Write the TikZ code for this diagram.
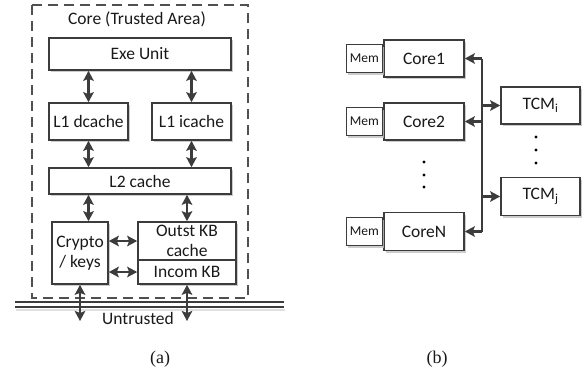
\documentclass[tikz,border=0pt]{standalone}
\usepackage{fontspec}
\setmainfont{Carlito}
\newfontfamily\capfont{Liberation Serif}
\usetikzlibrary{arrows.meta,shadows}
\definecolor{lineGray}{HTML}{3C3C3C}
\begin{document}
\begin{tikzpicture}[x=1pt,y=-1pt,
  line width=1.6pt,
  every node/.style={text=black!90},
  blk/.style={draw=lineGray, line width=1.6pt, fill=white, inner sep=0pt, align=center,
    font=\fontsize{17.5}{19.5}\selectfont,
    drop shadow={shadow xshift=2pt,shadow yshift=-2pt,fill=black!25,opacity=0.8}},
  memblk/.style={blk, font=\fontsize{13.5}{15.5}\selectfont},
  lbl/.style={inner sep=0pt, font=\fontsize{17.5}{19.5}\selectfont},
  captext/.style={inner sep=0pt, font=\capfont\fontsize{18}{20}\selectfont},
  link/.style={draw=lineGray, line width=2.3pt,
    arrows={Stealth[length=10pt,width=10.5pt,inset=2pt]-Stealth[length=10pt,width=10.5pt,inset=2pt]}},
  feed/.style={draw=lineGray, line width=2.3pt,
    -{Stealth[length=10pt,width=10.5pt,inset=2pt]}},
  dotmark/.style={fill=black}
]
\useasboundingbox (0,0) rectangle (585,373);

% ---------- (a) single core ----------
\draw[lineGray!90, line width=1.7pt, dash pattern=on 10pt off 6pt] (32,5) rectangle (248,298);
\node[lbl] (title) at (137,19) {Core (Trusted Area)};

\node[blk, minimum width=182pt, minimum height=32pt] (exe) at (140,54) {Exe Unit};
\node[blk, minimum width=79pt, minimum height=37pt] (dc) at (88.5,121.5) {L1 dcache};
\node[blk, minimum width=79pt, minimum height=37pt] (ic) at (191.5,121.5) {L1 icache};
\node[blk, minimum width=182pt, minimum height=26pt] (l2) at (140,181) {L2 cache};
\node[blk, minimum width=56pt, minimum height=62pt] (crypto) at (80,253) {Crypto\\/ keys};
\node[blk, minimum width=98pt, minimum height=38pt] (outst) at (187,241) {Outst KB\\cache};
\node[blk, minimum width=98pt, minimum height=24pt] (incom) at (187,272) {Incom KB};

\draw[link] (exe.south -| dc.north) -- (dc.north);
\draw[link] (exe.south -| ic.north) -- (ic.north);
\draw[link] (dc.south) -- (l2.north -| dc.south);
\draw[link] (ic.south) -- (l2.north -| ic.south);
\draw[link] (l2.south -| dc.south) -- (crypto.north -| dc.south);
\draw[link] (l2.south -| outst.north) -- (outst.north);
\draw[link] (crypto.east |- outst.west) -- (outst.west);
\draw[link] (crypto.east |- incom.west) -- (incom.west);

% boundary to the untrusted side
\draw[lineGray, line width=1.6pt] (15,302) -- (284,302);
\draw[lineGray, line width=1.6pt] (15,307) -- (284,307);
\draw[black!12, line width=1.8pt] (16,309.6) -- (285,309.6);
\coordinate (outA) at (80,321);
\coordinate (outB) at (187,321);
\draw[link] (crypto.south) -- (outA);
\draw[link] (incom.south) -- (outB);
\node[lbl] (untr) at (138,318) {Untrusted};

\node[captext] (capa) at (160,359) {(a)};

% ---------- (b) cores sharing TCMs ----------
\node[blk, minimum width=80pt, minimum height=37pt] (c1) at (424,58.5) {Core1};
\node[memblk, minimum width=36pt, minimum height=28pt, anchor=east] (m1) at (c1.west) {Mem};
\node[blk, minimum width=80pt, minimum height=37pt] (c2) at (424,121.5) {Core2};
\node[memblk, minimum width=36pt, minimum height=28pt, anchor=east] (m2) at (c2.west) {Mem};
\node[blk, minimum width=80pt, minimum height=38pt] (cn) at (424,231.5) {CoreN};
\node[memblk, minimum width=36pt, minimum height=28pt, anchor=east] (mn) at (cn.west) {Mem};

\node[blk, minimum width=79pt, minimum height=37pt] (ti) at (540.5,105.5) {TCM\textsubscript{i}};
\node[blk, minimum width=79pt, minimum height=38pt] (tj) at (540.5,196.5) {TCM\textsubscript{j}};

\coordinate (busTop) at (482,58.5);
\coordinate (busBot) at (482,231.5);
\draw[lineGray, line width=2.3pt] (busTop) -- (busBot);
\draw[feed] (busTop) -- (c1.east);
\draw[feed] (c2.east -| busTop) -- (c2.east);
\draw[feed] (busBot) -- (cn.east);
\draw[feed] (ti.west -| busTop) -- (ti.west);
\draw[feed] (tj.west -| busTop) -- (tj.west);

\foreach \y in {162,175,187} \fill[dotmark] (424,\y) circle (1.7pt);
\foreach \y in {137,150,163} \fill[dotmark] (536,\y) circle (1.7pt);

\node[captext] (capb) at (437,359) {(b)};
\end{tikzpicture}
\end{document}
